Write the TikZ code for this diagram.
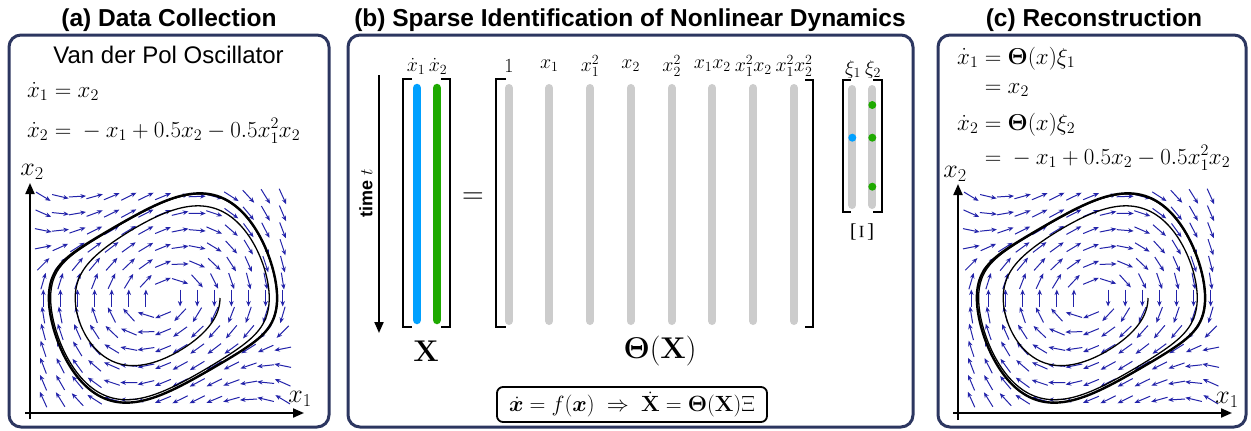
\RequirePackage{fix-cm}
\documentclass[tikz,border=0pt]{standalone}
\usepackage{amsmath}
\usepackage{bm}
\usepackage[no-math]{fontspec}
\setmainfont{Liberation Sans}
\usetikzlibrary{arrows.meta}
\definecolor{navy}{RGB}{44,54,96}
\definecolor{fieldblue}{RGB}{35,35,170}
\definecolor{barblue}{RGB}{0,160,255}
\definecolor{bargreen}{RGB}{30,170,0}
\definecolor{bargray}{RGB}{204,204,204}

% ---- Van der Pol integration (RK4) ----
\def\ox{163}\def\oy{298}\def\sx{57}\def\sy{47}\def\hh{0.05}
\newcommand\gf[2]{(-(#1)+0.5*(#2)-0.5*(#1)*(#1)*(#2))}
\newcommand\vdpStep{%
  \edef\kAa{\vb}\edef\kAb{\fpeval{\gf{\va}{\vb}}}%
  \edef\kBa{\fpeval{\vb+\hh/2*(\kAb)}}\edef\kBb{\fpeval{\gf{\va+\hh/2*(\kAa)}{\vb+\hh/2*(\kAb)}}}%
  \edef\kCa{\fpeval{\vb+\hh/2*(\kBb)}}\edef\kCb{\fpeval{\gf{\va+\hh/2*(\kBa)}{\vb+\hh/2*(\kBb)}}}%
  \edef\kDa{\fpeval{\vb+\hh*(\kCb)}}\edef\kDb{\fpeval{\gf{\va+\hh*(\kCa)}{\vb+\hh*(\kCb)}}}%
  \edef\va{\fpeval{\va+\hh/6*((\kAa)+2*(\kBa)+2*(\kCa)+(\kDa))}}%
  \edef\vb{\fpeval{\vb+\hh/6*((\kAb)+2*(\kBb)+2*(\kCb)+(\kDb))}}%
}
\newcount\stepk
\newcommand\vdpRun[5]{%
  \edef\va{#1}\edef\vb{#2}%
  \stepk=0
  \loop\ifnum\stepk<#3 \vdpStep\advance\stepk 1 \repeat
  \edef\ptl{(\fpeval{round(\ox+\sx*(\va),2)},\fpeval{round(\oy-\sy*(\vb),2)})}%
  \stepk=0
  \loop\ifnum\stepk<#4 \vdpStep
    \edef\ptl{\ptl (\fpeval{round(\ox+\sx*(\va),2)},\fpeval{round(\oy-\sy*(\vb),2)})}%
    \advance\stepk 1 \repeat
  \global\let#5\ptl
}
\vdpRun{2}{0}{130}{132}{\limitpts}
\vdpRun{1}{0}{0}{280}{\spiralpts}

\newcommand\drawfield{%
 \foreach \i in {0,...,14}{\foreach \j in {0,...,12}{%
  \edef\fa{\fpeval{-2.1+0.3*\i}}\edef\fb{\fpeval{-2.16+0.36*\j}}%
  \edef\fpx{\fpeval{\sx*(\fb)}}\edef\fpy{\fpeval{-\sy*\gf{\fa}{\fb}}}%
  \edef\fn{\fpeval{sqrt((\fpx)^2+(\fpy)^2)}}%
  \ifnum\fpeval{\fn>0.01}=1
   \edef\cx{\fpeval{\ox+\sx*(\fa)}}\edef\cy{\fpeval{\oy-\sy*(\fb)}}%
   \edef\ddx{\fpeval{8.5*(\fpx)/(\fn)}}\edef\ddy{\fpeval{8.5*(\fpy)/(\fn)}}%
   \edef\pax{\fpeval{round(\cx-\ddx,2)}}\edef\pay{\fpeval{round(\cy-\ddy,2)}}%
   \edef\pbx{\fpeval{round(\cx+\ddx,2)}}\edef\pby{\fpeval{round(\cy+\ddy,2)}}%
   \draw[fieldarrow] (\pax,\pay) -- (\pbx,\pby);
  \fi}}%
 \edef\tmpdraw{\noexpand\draw[limitcurve] plot[smooth] coordinates {\limitpts};}\tmpdraw
 \edef\tmpdraw{\noexpand\draw[spiralcurve] plot[smooth] coordinates {\spiralpts};}\tmpdraw
}

\tikzset{
  panel/.style={draw=navy, line width=3pt, rounded corners=12pt},
  ttl/.style={inner sep=0pt, font=\bfseries\fontsize{24.5}{28}\selectfont},
  txt/.style={inner sep=0pt, font=\fontsize{24}{28}\selectfont},
  eq/.style={inner sep=0pt, font=\fontsize{23}{28}\selectfont},
  lbl/.style={inner sep=0pt, font=\fontsize{20}{24}\selectfont},
  big/.style={inner sep=0pt, font=\fontsize{30}{34}\selectfont},
  fieldarrow/.style={draw=fieldblue, line width=1pt, -{Stealth[length=5.5pt,width=4.5pt]}},
  limitcurve/.style={draw=black, line width=2.4pt},
  spiralcurve/.style={draw=black, line width=1.3pt},
  axisline/.style={draw=black, line width=2pt, -{Triangle[length=11pt,width=9pt]}},
  brk/.style={draw=black, line width=2pt},
  gbar/.style={draw=bargray, line width=8pt, line cap=round},
  cbar/.style={line width=8.5pt, line cap=round},
  dotg/.style={fill=bargreen, draw=none},
  dotb/.style={fill=barblue, draw=none},
  eqbox/.style={draw=black, line width=1.8pt, rounded corners=6pt, inner xsep=6pt, inner ysep=0pt,
     minimum width=270pt, minimum height=35pt, font=\fontsize{22}{26}\selectfont}
}

\begin{document}
\begin{tikzpicture}[x=1pt,y=-1pt]
\useasboundingbox (0,0) rectangle (1251,431);

% ================= panel (a) =================
\draw[panel] (9,35) rectangle (329,427);
\node[ttl,anchor=base] (ta) at (169,27) {(a) Data Collection};
\node[txt,anchor=base] (vdp) at (168.5,63) {Van der Pol Oscillator};
\node[eq,anchor=base west] (ea1) at (27,97) {$\dot x_1 = x_2$};
\node[eq,anchor=base west] (ea2) at (27,137) {$\dot x_2 = {}-x_1 + 0.5x_2 - 0.5x_1^2x_2$};
\drawfield
\coordinate (ay0) at (30,419); \coordinate (ay1) at (30,183);
\coordinate (ax0) at (25,413); \coordinate (ax1) at (304,413);
\draw[axisline] (ay0) -- (ay1);
\draw[axisline] (ax0) -- (ax1);
\node[eq,font=\fontsize{26}{28}\selectfont] (ax2l) at (32,172) {$x_2$};
\node[eq,font=\fontsize{26}{28}\selectfont] (ax1l) at (300,399) {$x_1$};

% ================= panel (b) =================
\draw[panel] (348,35) rectangle (913,427);
\node[ttl,anchor=base] (tb) at (630,27) {(b) Sparse Identification of Nonlinear Dynamics};
% time arrow
\coordinate (t0) at (379,75); \coordinate (t1) at (379,333);
\draw[draw=black, line width=2pt, -{Triangle[length=11pt,width=9pt]}] (t0) -- (t1);
\node[rotate=90, inner sep=0pt, font=\bfseries\fontsize{18}{20}\selectfont] (tl) at (366,193) {time $t$};
% X matrix
\draw[brk] (412,79) -- (402.5,79) -- (402.5,327) -- (412,327);
\draw[brk] (441,79) -- (450,79) -- (450,327) -- (441,327);
\draw[cbar, draw=barblue] (417,88) -- (417,320);
\draw[cbar, draw=bargreen] (437,88) -- (437,320);
\node[lbl] (lx1) at (416,66) {$\dot x_1$};
\node[lbl] (lx2) at (438,66) {$\dot x_2$};
\node[big] (Xl) at (426,351) {$\mathbf{X}$};
\node[big] (eqs) at (473,198) {$=$};
% Theta matrix
\draw[brk] (506,79) -- (496,79) -- (496,327) -- (506,327);
\draw[brk] (805,80) -- (813,80) -- (813,327) -- (805,327);
\foreach \cx/\lab [count=\k] in {509/1, 549.3/x_1, 590/x_1^2, 630.7/x_2, 671.7/x_2^2, 712.3/x_1x_2, 753.3/x_1^2x_2, 794/x_1^2x_2^2}{
  \draw[gbar] (\cx,88) -- (\cx,321);
  \node[lbl] (th\k) at (\cx,66) {$\lab$};
}
\node[big] (Thl) at (660,351) {$\bm{\Theta}(\mathbf{X})$};
% Xi matrix
\draw[brk] (851,80) -- (843,80) -- (843,212) -- (851,212);
\draw[brk] (873,80) -- (881.5,80) -- (881.5,212) -- (873,212);
\draw[gbar] (852.3,89) -- (852.3,205);
\draw[gbar] (872.3,89) -- (872.3,205);
\fill[dotb] (852.3,137.7) circle[radius=4pt];
\fill[dotg] (872.3,105) circle[radius=4pt];
\fill[dotg] (872.3,137.7) circle[radius=4pt];
\fill[dotg] (872.3,186.7) circle[radius=4pt];
\node[lbl] (lxi1) at (853,69) {$\xi_1$};
\node[lbl] (lxi2) at (873,69) {$\xi_2$};
\node[inner sep=0pt, rotate=90, font=\fontsize{31}{34}\selectfont] (Xil) at (862,232) {$\Xi$};
% bottom formula
\node[eqbox] (form) at (632,404.5) {$\dot{\bm{x}} = f(\bm{x}) \;\Rightarrow\; \dot{\mathbf{X}} = \bm{\Theta}(\mathbf{X})\Xi$};

% ================= panel (c) =================
\draw[panel] (938,35) rectangle (1246,427);
\node[ttl,anchor=base] (tc) at (1094,27) {(c) Reconstruction};
\node[eq,anchor=base west] (ec1) at (957,64) {$\dot x_1 = \bm{\Theta}(x)\xi_1$};
\node[eq,anchor=base west] (ec2) at (957,93) {$\hphantom{\dot x_1} = x_2$};
\node[eq,anchor=base west] (ec3) at (957,130) {$\dot x_2 = \bm{\Theta}(x)\xi_2$};
\node[eq,anchor=base west] (ec4) at (957,164) {$\hphantom{\dot x_2} = {}-x_1 + 0.5x_2 - 0.5x_1^2x_2$};
\begin{scope}[xshift=928pt]
\drawfield
\end{scope}
\coordinate (cy0) at (958,420); \coordinate (cy1) at (958,184);
\coordinate (cx0) at (953,413); \coordinate (cx1) at (1232,413);
\draw[axisline] (cy0) -- (cy1);
\draw[axisline] (cx0) -- (cx1);
\node[eq,font=\fontsize{26}{28}\selectfont] (cx2l) at (955,174) {$x_2$};
\node[eq,font=\fontsize{26}{28}\selectfont] (cx1l) at (1227,400) {$x_1$};
\end{tikzpicture}
\end{document}
